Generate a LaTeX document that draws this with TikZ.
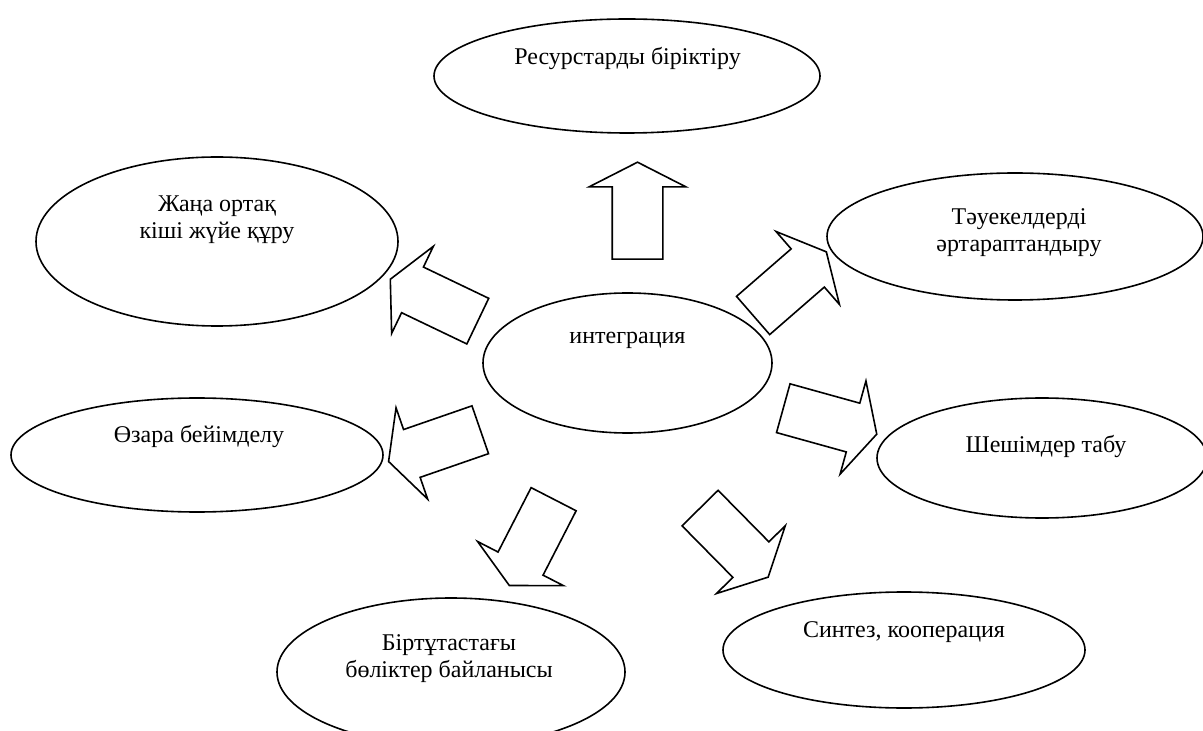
\documentclass[tikz,border=0pt]{standalone}
\usepackage{fontspec}
\setmainfont{Liberation Serif}
\usetikzlibrary{shapes.geometric,shapes.arrows}

\tikzset{
	oval/.style={draw, line width=0.8pt, ellipse, inner sep=0pt},
	lbl/.style={align=center, anchor=base, inner sep=0pt,
		font=\fontsize{12}{13.5}\selectfont},
	barrow/.style={draw, line width=0.8pt, single arrow, anchor=tail,
		inner xsep=0pt, inner ysep=12.25pt, minimum height=48.5pt,
		single arrow head extend=11.5pt, single arrow tip angle=126}
}

\begin{document}
\begin{tikzpicture}[x=0.5pt, y=-0.5pt]
	\useasboundingbox (0,0) rectangle (1203,731);
	% ovals
	\node [oval, minimum width=193pt, minimum height=57pt] (res) at (627,76) {};
	\node [oval, minimum width=181pt, minimum height=84.5pt] (zhana) at (217,241.5) {};
	\node [oval, minimum width=188pt, minimum height=63.5pt] (tau) at (1015,236.5) {};
	\node [oval, minimum width=144.5pt, minimum height=70pt] (int) at (627.5,363) {};
	\node [oval, minimum width=186pt, minimum height=57pt] (ozara) at (197,455) {};
	\node [oval, minimum width=165pt, minimum height=60pt] (shesh) at (1042,458) {};
	\node [oval, minimum width=174pt, minimum height=74pt] (birt) at (451,672) {};
	\node [oval, minimum width=181pt, minimum height=58pt] (sint) at (904,650) {};
	% texts (base = last line)
	\node [lbl] (res-t) at (627.5,65) {Ресурстарды біріктіру};
	\node [lbl] (zhana-t) at (217,239) {Жаңа ортақ\\кіші жүйе құру};
	\node [lbl] (tau-t) at (1019,252) {Тәуекелдерді\\әртараптандыру};
	\node [lbl] (int-t) at (627.5,344) {интеграция};
	\node [lbl] (ozara-t) at (199,443) {Өзара бейімделу};
	\node [lbl] (shesh-t) at (1046,452) {Шешімдер табу};
	\node [lbl] (birt-t) at (449,677) {Біртұтастағы\\бөліктер байланысы};
	\node [lbl] (sint-t) at (904,637) {Синтез, кооперация};
	% block arrows
	\node [barrow, rotate=90] (a-res) at (637.5,260) {};
	\node [barrow, rotate=41] (a-tau) at (752.5,316) {};
	\node [barrow, rotate=154.4] (a-zhana) at (478.5,321.5) {};
	\node [barrow, rotate=199.1] (a-ozara) at (481,429.5) {};
	\node [barrow, rotate=-15.5] (a-shesh) at (782.5,408) {};
	\node [barrow, rotate=-117.2] (a-birt) at (554,498.5) {};
	\node [barrow, rotate=-45.4] (a-sint) at (699.5,507.5) {};
\end{tikzpicture}
\end{document}
